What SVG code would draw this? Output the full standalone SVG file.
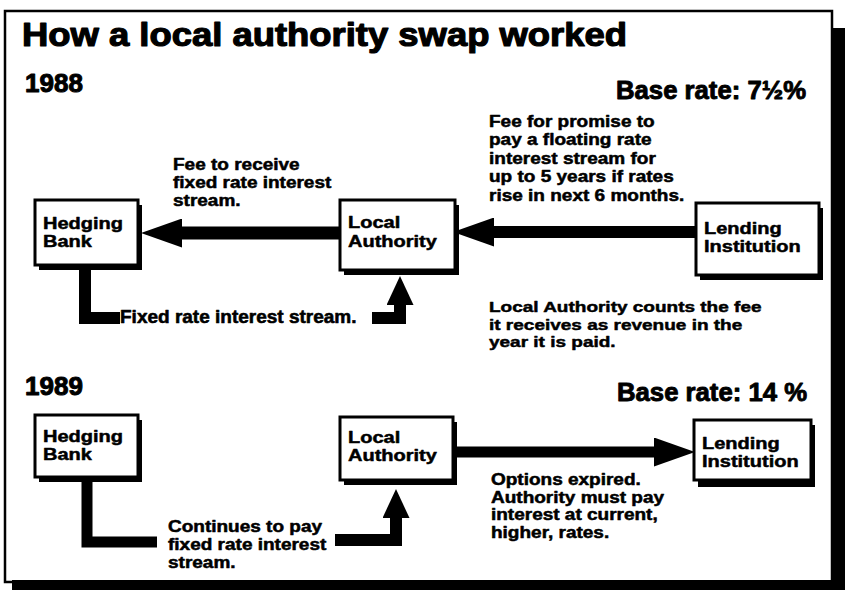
<svg xmlns="http://www.w3.org/2000/svg" width="847" height="593" viewBox="0 0 847 593">
<defs>
<style>
text{font-family:"Liberation Sans",Arial,sans-serif;font-weight:bold;fill:#000;stroke:#000;stroke-width:0.6;stroke-linejoin:round}
.title{font-size:34px;stroke-width:1.2}
.year{font-size:26px;stroke-width:1}
.rate{font-size:25px;stroke-width:0.9}
.lbl{font-size:19px}
.node{font-size:20px}
.box{fill:#fff;stroke:#000;stroke-width:3}
.shadow{fill:#000}
.conn{fill:none;stroke:#000;stroke-linejoin:miter}
</style>
<marker id="headH" markerUnits="userSpaceOnUse" viewBox="0 0 41 29" markerWidth="41" markerHeight="29" refX="0" refY="14.5" orient="auto">
<path d="M0,0 L41,14.5 L0,29 Z" fill="#000"/>
</marker>
<marker id="headV" markerUnits="userSpaceOnUse" viewBox="0 0 29 27" markerWidth="29" markerHeight="27" refX="0" refY="13.5" orient="auto">
<path d="M0,0 L29,13.5 L0,27 Z" fill="#000"/>
</marker>
</defs>
<rect width="847" height="593" fill="#fff"/>
<g id="frame">
<rect x="832" y="28" width="13" height="562" fill="#000"/>
<rect x="12" y="580" width="833" height="10" fill="#000"/>
<rect x="5" y="11" width="827" height="571" fill="none" stroke="#000" stroke-width="2.5"/>
</g>
<g id="headings">
<text class="title" x="22" y="46" textLength="605" lengthAdjust="spacingAndGlyphs">How a local authority swap worked</text>
<text class="year" x="25" y="92">1988</text>
<text class="year" x="25" y="395">1989</text>
<text class="rate" x="616" y="99" textLength="190" lengthAdjust="spacingAndGlyphs">Base rate: 7½%</text>
<text class="rate" x="617" y="401" textLength="190" lengthAdjust="spacingAndGlyphs">Base rate: 14 %</text>
</g>
<g id="connectors">
<path class="conn" d="M340,233 H182" stroke-width="13" marker-end="url(#headH)"/>
<path class="conn" d="M696,232 H494" stroke-width="12" marker-end="url(#headH)"/>
<path class="conn" d="M85,265 V318 H120" stroke-width="12"/>
<path class="conn" d="M372,318 H400 V305" stroke-width="12" marker-end="url(#headV)"/>
<path class="conn" d="M454,452 H654" stroke-width="11" marker-end="url(#headH)"/>
<path class="conn" d="M87,477 V542 H157" stroke-width="11"/>
<path class="conn" d="M335,540 H396 V518" stroke-width="12" marker-end="url(#headV)"/>
</g>
<g id="hedging-bank-1988">
<rect class="shadow" x="39" y="205" width="103" height="65"/>
<rect class="box" x="35" y="200" width="103" height="65"/>
<g transform="translate(43,229) scale(1,0.8)"><text class="node" x="0" y="0">Hedging<tspan x="0" dy="22.5">Bank</tspan></text></g>
</g>
<g id="local-authority-1988">
<rect class="shadow" x="344" y="205" width="115" height="70"/>
<rect class="box" x="340" y="200" width="115" height="70"/>
<g transform="translate(348,228) scale(1,0.844)"><text class="node" x="0" y="0">Local<tspan x="0" dy="22.5">Authority</tspan></text></g>
</g>
<g id="lending-institution-1988">
<rect class="shadow" x="700" y="208" width="123" height="72"/>
<rect class="box" x="696" y="203" width="123" height="72"/>
<g transform="translate(704,234) scale(1,0.8)"><text class="node" x="0" y="0">Lending<tspan x="0" dy="22.5">Institution</tspan></text></g>
</g>
<g id="hedging-bank-1989">
<rect class="shadow" x="39" y="420" width="103" height="62"/>
<rect class="box" x="35" y="415" width="103" height="62"/>
<g transform="translate(43,442) scale(1,0.8)"><text class="node" x="0" y="0">Hedging<tspan x="0" dy="22.5">Bank</tspan></text></g>
</g>
<g id="local-authority-1989">
<rect class="shadow" x="344" y="422" width="113" height="63"/>
<rect class="box" x="340" y="417" width="113" height="63"/>
<g transform="translate(348,443) scale(1,0.8)"><text class="node" x="0" y="0">Local<tspan x="0" dy="22.5">Authority</tspan></text></g>
</g>
<g id="lending-institution-1989">
<rect class="shadow" x="698" y="425" width="117" height="62"/>
<rect class="box" x="694" y="420" width="117" height="60"/>
<g transform="translate(702,449) scale(1,0.8)"><text class="node" x="0" y="0">Lending<tspan x="0" dy="22.5">Institution</tspan></text></g>
</g>
<g id="labels">
<g transform="translate(173,170) scale(1,0.841)"><text class="lbl" x="0" y="0">Fee to receive<tspan x="0" dy="21.4">fixed rate interest</tspan><tspan x="0" dy="21.4">stream.</tspan></text></g>
<g transform="translate(489,127) scale(1,0.864)"><text class="lbl" x="0" y="0">Fee for promise to<tspan x="0" dy="21.4">pay a floating rate</tspan><tspan x="0" dy="21.4">interest stream for</tspan><tspan x="0" dy="21.4">up to 5 years if rates</tspan><tspan x="0" dy="21.4">rise in next 6 months.</tspan></text></g>
<text class="lbl" x="120" y="323">Fixed rate interest stream.</text>
<g transform="translate(489,312) scale(1,0.818)"><text class="lbl" x="0" y="0">Local Authority counts the fee<tspan x="0" dy="21.4">it receives as revenue in the</tspan><tspan x="0" dy="21.4">year it is paid.</tspan></text></g>
<g transform="translate(491,485) scale(1,0.827)"><text class="lbl" x="0" y="0">Options expired.<tspan x="0" dy="21.4">Authority must pay</tspan><tspan x="0" dy="21.4">interest at current,</tspan><tspan x="0" dy="21.4">higher, rates.</tspan></text></g>
<g transform="translate(168,532) scale(1,0.841)"><text class="lbl" x="0" y="0">Continues to pay<tspan x="0" dy="21.4">fixed rate interest</tspan><tspan x="0" dy="21.4">stream.</tspan></text></g>
</g>
</svg>
